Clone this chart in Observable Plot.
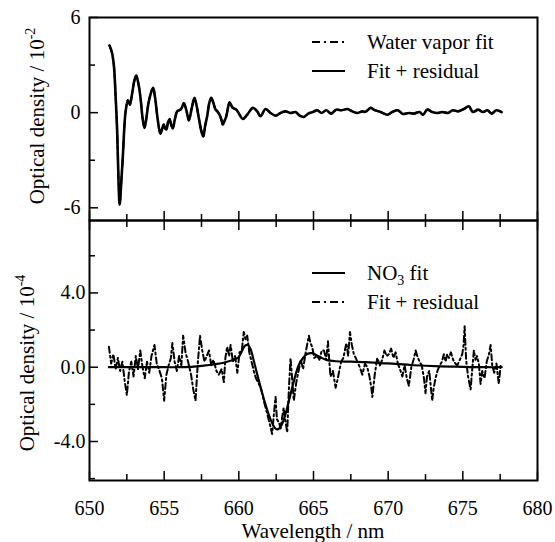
<!DOCTYPE html>
<html><head><meta charset="utf-8">
<script src="https://cdn.jsdelivr.net/npm/d3@7"></script>
<script src="https://cdn.jsdelivr.net/npm/@observablehq/plot@0.6"></script>
<style>
body{margin:0;background:#fff}
#chart{position:relative;width:555px;height:542px;overflow:hidden;background:#fff}
#chart svg{position:absolute;left:0}
#chart svg, #chart svg text{font-family:"Liberation Serif","Times New Roman",Times,"DejaVu Serif",serif !important}
</style></head><body><div id="chart"></div>
<script>
// ---------- data ----------
// Top panel: water vapor (optical density / 1e-2)
const topNm = [651.34,651.5,651.63,651.75,651.85,651.95,652.02,652.12,652.23,652.41,652.57,652.7,652.86,653.0,653.13,653.28,653.42,653.55,653.68,653.8,653.93,654.1,654.26,654.4,654.55,654.75,654.9,654.98,655.06,655.15,655.26,655.36,655.48,655.58,655.72,655.87,656.0,656.1,656.2,656.32,656.5,656.65,656.85,657.03,657.18,657.32,657.5,657.62,657.75,657.88,658.02,658.15,658.3,658.44,658.55,658.71,658.85,658.93,659.05,659.16,659.38,659.5,659.6,659.83,660.05,660.27,660.56,660.94,661.23,661.45,661.79,662.12,662.46,662.79,663.13,663.46,663.8,664.07,664.35,664.65,664.96,665.25,665.54,665.85,666.19,666.52,666.88,667.26,667.6,667.93,668.27,668.49,668.82,669.08,669.49,669.94,670.27,670.65,670.98,671.39,671.72,672.1,672.33,672.62,672.95,673.29,673.62,674.02,674.33,674.69,675.07,675.4,675.67,676.03,676.34,676.64,676.93,677.24,677.6];
const topFitResidual = [4.23,3.8,3.0,1.0,-1.1,-4.5,-5.8,-4.5,-2.8,0.0,0.78,0.5,1.24,2.0,2.34,1.8,0.9,-0.3,-0.97,-0.4,0.5,1.2,1.56,0.9,-0.3,-1.33,-0.9,-0.75,-1.0,-1.05,-0.6,-0.4,-0.8,-1.0,-0.4,0.08,0.15,0.2,0.35,0.6,0.1,-0.49,0.3,0.93,0.4,-0.34,-1.2,-1.5,-0.8,-0.23,0.6,0.93,0.6,0.2,0.1,-0.13,-0.5,-0.76,-0.5,-0.23,0.65,0.45,0.3,0.19,-0.13,-0.4,-0.13,0.3,0.08,-0.23,0.23,-0.02,-0.19,-0.02,0.08,-0.02,0.04,-0.19,-0.27,-0.06,0.04,0.15,-0.02,0.15,-0.06,0.19,0.15,0.23,0.08,-0.02,0.08,0.05,0.3,0.17,0.04,-0.13,0.04,0.15,-0.08,-0.02,-0.06,0.04,-0.13,0.19,0.04,-0.02,0.04,-0.02,0.15,0.08,0.23,0.4,0.04,0.19,0.04,0.15,-0.06,0.15,0.04];
const topWaterFit = topFitResidual; // overlaps the fit + residual curve in the reference

// Bottom panel: NO3 fit (optical density / 1e-4)
const no3Nm  = [651.3,652,653,654,655,656,657,658,658.5,659,659.5,659.8,660.0,660.2,660.4,660.6,660.8,661.0,661.3,661.6,661.9,662.2,662.45,662.6,662.8,663.0,663.2,663.45,663.7,664.0,664.3,664.6,664.9,665.2,665.5,665.9,666.5,667.5,668.5,669.5,670.5,671.5,672.5,673.5,674.5,675.5,676.5,677.6];
const no3Fit = [0,0,0,0,0,0,0.03,0.12,0.17,0.24,0.36,0.45,0.55,0.85,1.15,1.2,0.95,0.35,-0.6,-1.5,-2.3,-2.95,-3.3,-3.35,-3.2,-2.85,-2.3,-1.5,-0.7,0.1,0.5,0.72,0.76,0.65,0.52,0.38,0.32,0.3,0.27,0.22,0.18,0.12,0.08,0.05,0.03,0.01,0,0];

// Bottom panel: fit + residual
const resNm = [651.3,651.45,651.6,651.75,651.9,652.05,652.2,652.35,652.5,652.65,652.8,652.95,653.1,653.25,653.4,653.55,653.7,653.85,654.0,654.15,654.35,654.5,654.65,654.85,655.0,655.15,655.3,655.45,655.55,655.7,655.85,656.0,656.15,656.27,656.43,656.6,656.8,656.95,657.1,657.25,657.4,657.55,657.7,657.85,658.0,658.15,658.3,658.5,658.66,658.85,659.0,659.1,659.22,659.35,659.45,659.6,659.75,659.9,660.05,660.2,660.33,660.45,660.56,660.7,660.85,661.0,661.15,661.34,661.5,661.67,661.8,661.9,662.02,662.12,662.23,662.35,662.46,662.55,662.7,662.8,662.9,663.0,663.12,663.24,663.35,663.46,663.57,663.68,663.85,664.0,664.15,664.3,664.5,664.69,664.8,664.91,665.05,665.25,665.4,665.55,665.7,665.85,665.97,666.06,666.14,666.3,666.48,666.6,666.7,666.85,667.0,667.2,667.32,667.44,667.57,667.7,667.83,667.93,668.1,668.27,668.45,668.6,668.75,668.87,668.94,669.1,669.27,669.45,669.6,669.75,669.9,670.05,670.2,670.35,670.5,670.65,670.83,670.95,671.1,671.25,671.39,671.55,671.7,671.84,671.95,672.1,672.25,672.4,672.5,672.6,672.75,672.85,672.95,673.05,673.17,673.3,673.45,673.6,673.73,673.85,673.95,674.07,674.2,674.35,674.5,674.63,674.8,674.96,675.05,675.12,675.22,675.35,675.52,675.62,675.74,675.85,675.95,676.07,676.19,676.3,676.45,676.6,676.75,676.86,676.97,677.1,677.25,677.41,677.53];
const resOd = [1.1,0.2,0.7,-0.1,0.5,-0.2,0.3,-0.7,-1.5,-0.2,0.3,-0.5,0.6,-0.1,0.9,0.0,-0.6,0.3,-0.3,0.6,1.2,0.2,-0.1,-0.6,-1.8,-0.4,0.1,0.5,1.3,0.3,-0.2,0.6,0.1,1.7,0.8,0.3,-0.4,-1.2,-1.8,0.2,1.7,0.9,0.3,0.6,0.9,0.1,0.4,-0.2,-0.4,-0.1,-0.8,0.5,1.1,0.6,1.2,0.3,0.6,-0.3,0.8,0.9,1.9,1.5,1.7,0.8,0.3,-0.2,-0.6,-0.9,-1.2,-1.8,-2.2,-2.5,-2.9,-3.2,-3.6,-2.5,-1.6,-2.8,-3.0,-3.3,-2.7,-2.2,-2.9,-3.5,-1.2,0.5,-0.6,-1.8,-0.8,-0.2,0.4,-0.1,0.9,1.7,1.3,1.1,0.5,0.6,0.4,0.9,0.9,0.4,1.4,0.3,-0.5,-0.2,-1.1,-0.7,-0.3,0.3,0.5,1.3,0.6,1.9,1.2,0.7,0.5,0.3,0.0,-0.4,0.2,0.0,-0.5,-1.1,-1.6,-0.4,0.5,0.1,0.4,0.9,0.6,0.7,1.0,0.5,0.8,0.2,-0.2,-0.5,0.1,-0.6,-1.0,0.0,0.4,0.9,0.6,0.3,0.1,-0.6,-1.4,-0.5,-0.2,-1.0,-1.8,-1.1,-0.6,-0.2,0.1,0.3,0.7,0.3,0.7,0.5,0.8,0.4,0.2,0.1,0.4,0.7,1.2,2.2,0.4,-0.5,-1.2,-0.2,0.9,0.4,0.6,0.2,-0.9,-0.2,-0.6,0.3,0.7,1.2,0.1,-0.3,0.2,-0.9,0.1];

// ticks
const xMajor = [650,655,660,665,670,675,680];
const xMinor = [652.5,657.5,662.5,667.5,672.5,677.5];
const topYMajor = [-6,0,6];
const topYMinor = [-3,3];
const botYMajor = [-4,0,4];
const botYMinor = [-6,-2,2,6];

const topRows = topNm.map((nm,i)=>({nm, res: topFitResidual[i], fit: topWaterFit[i]}));
const no3Rows = no3Nm.map((nm,i)=>({nm, od: no3Fit[i]}));
const resRows = resNm.map((nm,i)=>({nm, od: resOd[i]}));

// ---------- plots ----------
const font = "Liberation Serif, Times New Roman, Times, DejaVu Serif, serif";
const style = {fontFamily: font, fontSize: "20px", background: "transparent", overflow: "visible", color: "black"};
const DASHDOT = "8,4,2,4";

const topPlot = Plot.plot({
  width: 555, height: 222, marginLeft: 89, marginRight: 18, marginTop: 17, marginBottom: 2,
  style,
  x: {domain: [650, 680], axis: null},
  y: {domain: [-6.8, 6], axis: null},
  marks: [
    Plot.line(topRows, {x: "nm", y: "fit", stroke: "black", strokeWidth: 2, strokeDasharray: DASHDOT, curve: "catmull-rom"}),
    Plot.line(topRows, {x: "nm", y: "res", stroke: "black", strokeWidth: 2.6, curve: "catmull-rom"}),
    Plot.axisY(topYMajor, {anchor: "left", tickSize: -9, tickFormat: () => "", strokeWidth: 1.5, label: null}),
    Plot.axisY(topYMinor, {anchor: "left", tickSize: -6, tickFormat: () => "", strokeWidth: 1.5, label: null}),
    Plot.axisY(topYMajor, {anchor: "left", tickSize: 0, tickPadding: 9, tickFormat: d => String(d), label: null}),
    Plot.axisX(xMajor, {anchor: "bottom", tickSize: -9, tickFormat: () => "", strokeWidth: 1.5, label: null}),
    Plot.axisX(xMinor, {anchor: "bottom", tickSize: -6, tickFormat: () => "", strokeWidth: 1.5, label: null}),
    Plot.frame({stroke: "black", strokeWidth: 2})
  ]
});

const botPlot = Plot.plot({
  width: 555, height: 323, marginLeft: 89, marginRight: 18, marginTop: 1, marginBottom: 62,
  style,
  x: {domain: [650, 680], axis: null},
  y: {domain: [-6.1, 7.9], axis: null},
  marks: [
    Plot.line(resRows, {x: "nm", y: "od", stroke: "black", strokeWidth: 2, strokeDasharray: "6,3,2,3"}),
    Plot.line(no3Rows, {x: "nm", y: "od", stroke: "black", strokeWidth: 2.2, curve: "catmull-rom"}),
    Plot.axisY(botYMajor, {anchor: "left", tickSize: -9, tickFormat: () => "", strokeWidth: 1.5, label: null}),
    Plot.axisY(botYMinor, {anchor: "left", tickSize: -6, tickFormat: () => "", strokeWidth: 1.5, label: null}),
    Plot.axisY(botYMajor, {anchor: "left", tickSize: 0, tickPadding: 4, tickFormat: d => d.toFixed(1), label: null}),
    Plot.axisX(xMajor, {anchor: "bottom", tickSize: -9, tickFormat: () => "", strokeWidth: 1.5, label: null}),
    Plot.axisX(xMinor, {anchor: "bottom", tickSize: -6, tickFormat: () => "", strokeWidth: 1.5, label: null}),
    Plot.axisX(xMajor, {anchor: "top", tickSize: -9, tickFormat: () => "", strokeWidth: 1.5, label: null}),
    Plot.axisX(xMinor, {anchor: "top", tickSize: -6, tickFormat: () => "", strokeWidth: 1.5, label: null}),
    Plot.axisX(xMajor, {anchor: "bottom", tickSize: 0, tickPadding: 20, tickFormat: d => String(d), label: null}),
    Plot.frame({stroke: "black", strokeWidth: 2})
  ]
});

const chart = document.getElementById("chart");
chart.append(topPlot);
chart.append(botPlot);
topPlot.style.top = "0px";
botPlot.style.top = "219px";

// ---------- labels & legends ----------
const LBL = 21;
function yLabel(svg, x, y, exp) {
  const t = d3.select(svg).append("text")
    .attr("transform", `translate(${x},${y}) rotate(-90)`)
    .attr("text-anchor", "middle")
    .attr("font-size", LBL).attr("fill", "black");
  t.append("tspan").text("Optical density / 10");
  t.append("tspan").attr("font-size", 14).attr("dy", -9).text(exp);
}
yLabel(topPlot, 44, 116, "-2");
yLabel(botPlot, 34, 363 - 219, "-4");

d3.select(botPlot).append("text")
  .attr("x", 313).attr("y", 538 - 219).attr("text-anchor", "middle")
  .attr("font-size", LBL).attr("fill", "black")
  .text("Wavelength / nm");

function legendItem(svg, y, dash, width, label, sub) {
  const g = d3.select(svg).append("g");
  g.append("line").attr("x1", 312).attr("x2", 345).attr("y1", y).attr("y2", y)
    .attr("stroke", "black").attr("stroke-width", width)
    .attr("stroke-dasharray", dash || null);
  const t = g.append("text").attr("x", 367).attr("y", y + 7)
    .attr("text-anchor", "start")
    .attr("font-size", LBL).attr("fill", "black");
  if (sub) {
    t.append("tspan").text(label[0]);
    t.append("tspan").attr("font-size", 14).attr("dy", 5).text(sub);
    t.append("tspan").attr("dy", -5).text(label[1]);
  } else {
    t.text(label);
  }
}
legendItem(topPlot, 42, DASHDOT, 2, "Water vapor fit");
legendItem(topPlot, 71, null, 2, "Fit + residual");
legendItem(botPlot, 273 - 219, null, 2, ["NO", " fit"], "3");
legendItem(botPlot, 302 - 219, DASHDOT, 2, "Fit + residual");
</script></body></html>
